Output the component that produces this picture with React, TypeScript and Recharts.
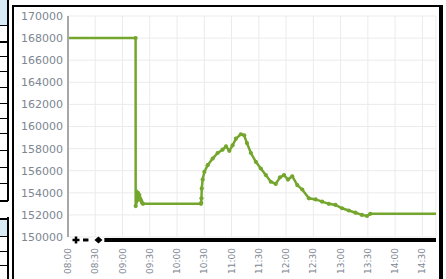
import React from "react";
import { LineChart, Line, XAxis, YAxis, CartesianGrid, ReferenceLine, ReferenceDot } from "recharts";

// minutes since 08:00
const times = [
  0, 74.4, 74.5, 76, 77, 78.5, 79.3, 80.5, 81.5, 82.5, 146.3,
  146.6, 146.9, 147.2, 148.2, 150.1, 153.7, 159.2, 164.7, 170.1, 173.9,
  177.5, 181.1, 184.8, 190.3, 193.9, 196.9, 201.3, 206.7, 212.2, 217.7,
  223.2, 228.6, 233.3, 237.7, 242.1, 246.8, 252.3, 257.8, 265.1, 272.5,
  279.7, 287.0, 294.4, 301.6, 309.0, 316.3, 323.5, 329.0, 332.7, 405,
];
const values = [
  168000, 168000, 152800, 153300, 154000, 153800, 153500, 153300, 153100, 153000, 153000,
  153100, 153500, 154400, 155200, 155900, 156500, 157100, 157600, 157900, 158200,
  157800, 158300, 158900, 159300, 159200, 158500, 157600, 156800, 156200, 155600,
  155000, 154800, 155400, 155600, 155200, 155500, 154700, 154300, 153500, 153400,
  153200, 153000, 152900, 152600, 152400, 152200, 152000, 151900, 152100, 152100,
];

const tickMinutes = [0, 30, 60, 90, 120, 150, 180, 210, 240, 270, 300, 330, 360, 390];
const tickLabels = ["08:00", "08:30", "09:00", "09:30", "10:00", "10:30", "11:00", "11:30", "12:00", "12:30", "13:00", "13:30", "14:00", "14:30"];
const yTicks = [150000, 152000, 154000, 156000, 158000, 160000, 162000, 164000, 166000, 168000, 170000];

// black baseline strip below the axis
const baseValue = 149730;
const baseBarStart = 40;
const baseBarEnd = 405;
const baseDashStart = 16.5;
const baseDashEnd = 22.5;
const basePlusAt = 8.8;
const baseDiamondAt = 33.5;

const data = times.map((t, i) => ({ t, v: values[i] }));

const GREEN = "#74a62d";
const LABEL = "#7d8691";
const FONT = "DejaVu Sans, Verdana, sans-serif";

const XTick = (props: any) => {
  const { x, y, payload } = props;
  const i = tickMinutes.indexOf(payload.value);
  return (
    <text
      x={x}
      y={y}
      dy={3}
      transform={`rotate(-90 ${x} ${y})`}
      textAnchor="end"
      fontSize={9}
      fontFamily={FONT}
      fill={LABEL}
    >
      {tickLabels[i]}
    </text>
  );
};

const renderDot = (props: any) => {
  const { cx, cy, payload, index } = props;
  if (payload.t > 74 && payload.t < 335) {
    return <circle key={`d${index}`} cx={cx} cy={cy} r={2.1} fill={GREEN} stroke="none" />;
  }
  return <g key={`d${index}`} />;
};

const plusShape = (props: any) => {
  const { cx, cy } = props;
  return (
    <g>
      <line x1={cx - 3.5} x2={cx + 3.5} y1={cy} y2={cy} stroke="#000" strokeWidth={2.5} />
      <line x1={cx} x2={cx} y1={cy - 3.5} y2={cy + 3.5} stroke="#000" strokeWidth={2.5} />
    </g>
  );
};

const diamondShape = (props: any) => {
  const { cx, cy } = props;
  return <path d={`M${cx - 4},${cy} L${cx},${cy - 3.5} L${cx + 4},${cy} L${cx},${cy + 3.5} Z`} fill="#000" />;
};

const rowLines = [25, 41, 56, 71, 87, 103, 118, 133, 150, 167, 183, 200];
const rowLines2 = [218, 236, 251, 265];

export default function App() {
  return (
    <div style={{ position: "absolute", left: 0, top: 0, width: 446, height: 279, overflow: "hidden", background: "#fff" }}>
      {/* left partial tables */}
      <div style={{ position: "absolute", left: 0, top: 0, width: 7, height: 25, background: "#d6ebf5" }} />
      <div style={{ position: "absolute", left: 7, top: 0, width: 2, height: 201, background: "#000" }} />
      {rowLines.map((y, i) => (
        <div key={`r${i}`} style={{ position: "absolute", left: 0, top: y, width: 8, height: i === 1 || i === rowLines.length - 1 ? 2 : 1, background: "#000" }} />
      ))}
      <div style={{ position: "absolute", left: 0, top: 218, width: 7, height: 18, background: "#d6ebf5" }} />
      <div style={{ position: "absolute", left: 7, top: 217, width: 2, height: 62, background: "#000" }} />
      {rowLines2.map((y, i) => (
        <div key={`s${i}`} style={{ position: "absolute", left: 0, top: y, width: 8, height: i === 0 ? 2 : 1, background: "#000" }} />
      ))}
      {/* frame */}
      <div style={{ position: "absolute", left: 12, top: 5, width: 425, height: 300, borderLeft: "2px solid #000", borderTop: "2px solid #000", borderRight: "4px solid #000" }} />
      <div style={{ position: "absolute", left: 0, top: 0 }}>
        <LineChart width={446} height={279} data={data} margin={{ top: 16, right: 10, bottom: 0, left: 13 }}>
          <CartesianGrid stroke="#ebebeb" strokeWidth={1} />
          <XAxis
            dataKey="t"
            type="number"
            domain={[0, 405]}
            ticks={tickMinutes}
            axisLine={false}
            tickLine={false}
            tickSize={0}
            tickMargin={11}
            height={42}
            tick={<XTick />}
            interval={0}
          />
          <YAxis
            type="number"
            domain={[150000, 170000]}
            ticks={yTicks}
            allowDataOverflow
            width={55}
            axisLine={{ stroke: "#a8a8a8", strokeWidth: 2 }}
            tickLine={false}
            tickSize={0}
            tickMargin={5}
            interval={0}
            tick={{ fontSize: 11, fill: LABEL, fontFamily: FONT }}
          />
          <Line
            type="linear"
            dataKey="v"
            stroke={GREEN}
            strokeWidth={2.5}
            dot={renderDot}
            activeDot={false}
            isAnimationActive={false}
          />
          <ReferenceLine
            segment={[{ x: baseBarStart, y: baseValue }, { x: baseBarEnd, y: baseValue }]}
            stroke="#000"
            strokeWidth={4}
            ifOverflow="visible"
          />
          <ReferenceLine
            segment={[{ x: baseDashStart, y: baseValue }, { x: baseDashEnd, y: baseValue }]}
            stroke="#000"
            strokeWidth={3}
            ifOverflow="visible"
          />
          <ReferenceDot x={basePlusAt} y={baseValue} ifOverflow="visible" shape={plusShape} />
          <ReferenceDot x={baseDiamondAt} y={baseValue} ifOverflow="visible" shape={diamondShape} />
        </LineChart>
      </div>
    </div>
  );
}
